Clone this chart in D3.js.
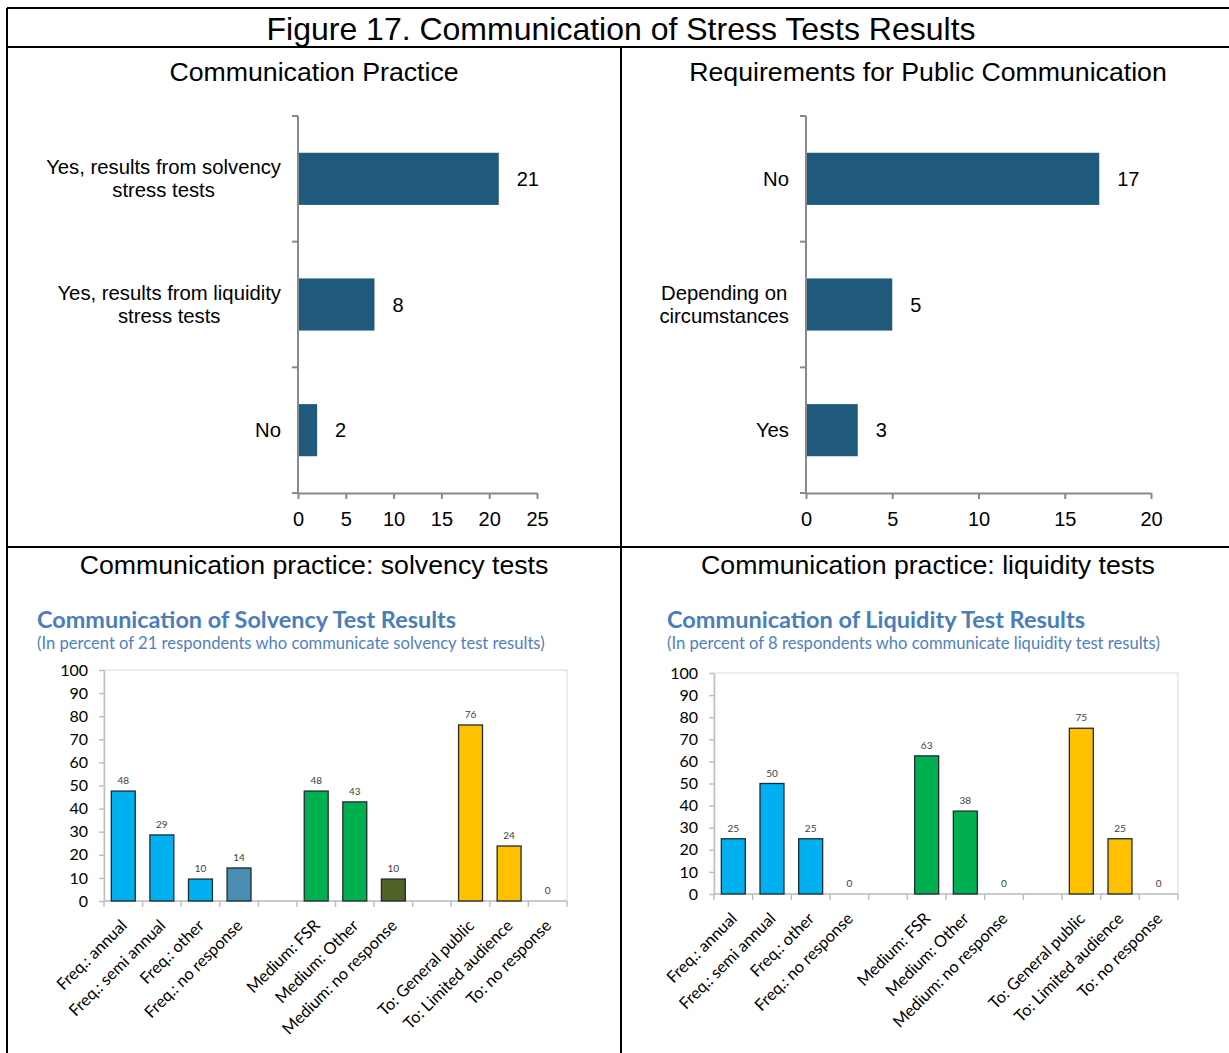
<!DOCTYPE html>
<html>
<head>
<meta charset="utf-8">
<script src="https://cdn.jsdelivr.net/npm/d3@7"></script>
<style>
  body { margin: 0; background: #fff; }
  .arial { font-family: "Liberation Sans", Arial, sans-serif; }
  .cal { font-family: Lato, "Open Sans", sans-serif; }
</style>
</head>
<body>
<script>
// top charts
const practiceCats = [["Yes, results from solvency", "stress tests"], ["Yes, results from liquidity", "stress tests"], ["No"]];
const practiceValues = [21, 8, 2];
const practiceTicks = [0, 5, 10, 15, 20, 25];

const requirementCats = [["No"], ["Depending on", "circumstances"], ["Yes"]];
const requirementValues = [17, 5, 3];
const requirementTicks = [0, 5, 10, 15, 20];

// bottom charts ("" = gap between groups)
const testCats = ["Freq.: annual", "Freq.: semi annual", "Freq.: other", "Freq.: no response", "",
  "Medium: FSR", "Medium: Other", "Medium: no response", "",
  "To: General public", "To: Limited audience", "To: no response"];
const solvencyValues = [47.6, 28.6, 9.5, 14.3, null, 47.6, 42.9, 9.5, null, 76.2, 23.8, 0];
const liquidityValues = [25, 50, 25, 0, null, 62.5, 37.5, 0, null, 75, 25, 0];
const percentTicks = [0, 10, 20, 30, 40, 50, 60, 70, 80, 90, 100];

const barFill = ["#00B0F0", "#00B0F0", "#00B0F0", "#4A8DB0", null,
  "#00B050", "#00B050", "#4F6228", null, "#FFC000", "#FFC000", "#FFC000"];

const W = 1229, H = 1053;
const svg = d3.select("body").append("svg")
  .attr("width", W).attr("height", H);

svg.append("rect").attr("width", W).attr("height", H).attr("fill", "#fff");

// frame
const frame = [[7, 8, W, 8], [7, 47, W, 47], [7, 547, W, 547], [7, 8, 7, H], [621, 47, 621, H]];
svg.selectAll(".frame").data(frame).enter().append("line")
  .attr("x1", d => d[0]).attr("y1", d => d[1]).attr("x2", d => d[2]).attr("y2", d => d[3])
  .attr("stroke", "#000").attr("stroke-width", 2);

svg.append("text").attr("class", "arial")
  .attr("x", 621).attr("y", 40).attr("text-anchor", "middle")
  .attr("font-size", 32)
  .text("Figure 17. Communication of Stress Tests Results");

function hbar(c) {
  const x = d3.scaleLinear().domain([0, c.max]).range([c.x0, c.x1]);
  const y = d3.scaleBand().domain(d3.range(c.values.length))
    .range([116, 493]).paddingInner(0.585).paddingOuter(0.2925);
  const g = svg.append("g").attr("class", "arial");

  g.append("text").attr("x", c.titleX).attr("y", 81)
    .attr("text-anchor", "middle").attr("font-size", 26.7).text(c.title);

  g.selectAll("rect").data(c.values).enter().append("rect")
    .attr("x", x(0)).attr("y", (d, i) => y(i))
    .attr("width", d => x(d) - x(0)).attr("height", y.bandwidth())
    .attr("fill", "#1F5A7D");

  g.selectAll(".val").data(c.values).enter().append("text")
    .attr("x", d => x(d) + 18).attr("y", (d, i) => y(i) + y.bandwidth() / 2)
    .attr("dy", "0.35em").attr("font-size", 20).text(d => d);

  const ax = g.append("g").attr("transform", "translate(0,493)")
    .call(d3.axisBottom(x).tickValues(c.ticks).tickSize(6).tickSizeOuter(0).tickPadding(13));
  ax.select(".domain").attr("stroke", "#898989").attr("stroke-width", 2);
  ax.selectAll(".tick line").attr("stroke", "#898989").attr("stroke-width", 2);
  ax.selectAll(".tick text").attr("font-size", 20).attr("fill", "#000")
    .attr("font-family", "Liberation Sans, Arial, sans-serif");

  g.append("line").attr("x1", x(0)).attr("x2", x(0)).attr("y1", 116).attr("y2", 493)
    .attr("stroke", "#898989").attr("stroke-width", 2);
  g.selectAll(".ytick").data(d3.range(c.values.length + 1)).enter().append("line")
    .attr("x1", x(0) - 6).attr("x2", x(0))
    .attr("y1", i => 116 + i * y.step()).attr("y2", i => 116 + i * y.step())
    .attr("stroke", "#898989").attr("stroke-width", 2);

  const lh = 23;
  c.cats.forEach((lines, i) => {
    const cy = y(i) + y.bandwidth() / 2;
    const t = g.append("text").attr("text-anchor", "middle").attr("font-size", 20.3);
    lines.forEach((s, k) => {
      t.append("tspan").attr("x", 0)
        .attr("y", cy + (k - (lines.length - 1) / 2) * lh)
        .attr("dy", "0.35em").text(s);
    });
    const w = d3.max(t.selectAll("tspan").nodes(), n => n.getComputedTextLength());
    t.selectAll("tspan").attr("x", x(0) - 17 - w / 2);
  });
}

hbar({ title: "Communication Practice", titleX: 314, x0: 298, x1: 537, max: 25,
  ticks: practiceTicks, cats: practiceCats, values: practiceValues });
hbar({ title: "Requirements for Public Communication", titleX: 928, x0: 806, x1: 1151, max: 20,
  ticks: requirementTicks, cats: requirementCats, values: requirementValues });

function vbar(c) {
  const x = d3.scaleBand().domain(d3.range(testCats.length))
    .range([c.x0, c.x1]).paddingInner(0.38).paddingOuter(0.19);
  const y = d3.scaleLinear().domain([0, 100]).range([c.y0, c.y100]);
  const g = svg.append("g").attr("class", "cal");

  svg.append("text").attr("class", "arial").attr("x", c.sectionX).attr("y", 574)
    .attr("text-anchor", "middle").attr("font-size", 26.7).text(c.section);

  g.append("text").attr("x", c.left).attr("y", 628).attr("font-size", 22)
    .attr("font-weight", "bold").attr("fill", "#4A7EBB")
    .attr("textLength", c.titleWidth).attr("lengthAdjust", "spacingAndGlyphs")
    .text(c.title);
  g.append("text").attr("x", c.left).attr("y", 649).attr("font-size", 16.6)
    .attr("fill", "#4F81BD").text(c.subtitle);

  g.append("rect").attr("x", c.x0).attr("y", c.y100)
    .attr("width", c.x1 - c.x0).attr("height", c.y0 - c.y100)
    .attr("fill", "none").attr("stroke", "#D9D9D9");

  const ay = g.append("g").attr("transform", `translate(${c.x0},0)`)
    .call(d3.axisLeft(y).tickValues(percentTicks).tickSize(5).tickSizeOuter(0).tickPadding(11));
  ay.select(".domain").attr("stroke", "#BFBFBF").attr("stroke-width", 1.5);
  ay.selectAll(".tick line").attr("stroke", "#BFBFBF").attr("stroke-width", 1.5);
  ay.selectAll(".tick text").attr("font-size", 16).attr("fill", "#000")
    .attr("font-family", "Lato, sans-serif");

  g.append("line").attr("x1", c.x0).attr("x2", c.x1).attr("y1", c.y0).attr("y2", c.y0)
    .attr("stroke", "#BFBFBF").attr("stroke-width", 1.5);
  g.selectAll(".xtick").data(d3.range(testCats.length + 1)).enter().append("line")
    .attr("x1", i => c.x0 + i * x.step()).attr("x2", i => c.x0 + i * x.step())
    .attr("y1", c.y0).attr("y2", c.y0 + 6)
    .attr("stroke", "#BFBFBF").attr("stroke-width", 1.5);

  const pts = c.values.map((v, i) => ({ v, i })).filter(d => d.v !== null);

  g.selectAll(".bar").data(pts.filter(d => d.v > 0)).enter().append("rect")
    .attr("x", d => x(d.i)).attr("y", d => y(d.v))
    .attr("width", x.bandwidth()).attr("height", d => y(0) - y(d.v))
    .attr("fill", d => barFill[d.i]).attr("stroke", "#1E2B33").attr("stroke-width", 1.3);

  g.selectAll(".lbl").data(pts).enter().append("text")
    .attr("x", d => x(d.i) + x.bandwidth() / 2).attr("y", d => y(d.v) - 7)
    .attr("text-anchor", "middle").attr("font-size", 10).attr("fill", "#404040")
    .text(d => d.v.toFixed(0));

  g.selectAll(".cat").data(testCats.map((s, i) => ({ s, i })).filter(d => d.s)).enter()
    .append("text")
    .attr("transform", d => `translate(${x(d.i) + x.bandwidth() / 2 - 4},${c.y0 + 17}) rotate(-45)`)
    .attr("text-anchor", "end").attr("dy", "0.75em").attr("font-size", 16.3)
    .text(d => d.s);
}

vbar({ section: "Communication practice: solvency tests", sectionX: 314,
  title: "Communication of Solvency Test Results", titleWidth: 419,
  subtitle: "(In percent of 21 respondents who communicate solvency test results)",
  left: 37, x0: 104, x1: 567, y0: 901, y100: 670, values: solvencyValues });
vbar({ section: "Communication practice: liquidity tests", sectionX: 928,
  title: "Communication of Liquidity Test Results", titleWidth: 418,
  subtitle: "(In percent of 8 respondents who communicate liquidity test results)",
  left: 667, x0: 714, x1: 1178, y0: 894, y100: 673, values: liquidityValues });
</script>
</body>
</html>
